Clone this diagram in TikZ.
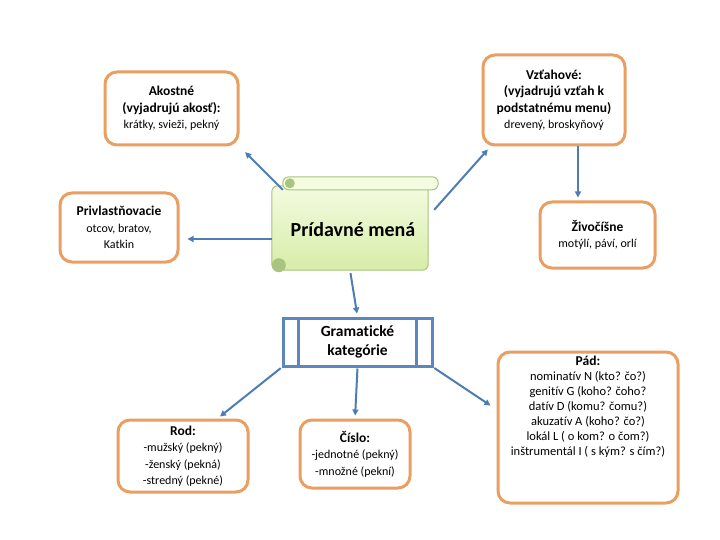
\documentclass[tikz,border=0pt]{standalone}
\usepackage{fontspec}
\setmainfont[Ligatures={NoCommon}]{Carlito}
\usetikzlibrary{positioning,arrows.meta,calc}
\definecolor{coranz}{HTML}{EA9F62}
\definecolor{cmodra}{HTML}{4F7DB3}
\definecolor{cramec}{HTML}{5B87BE}
\definecolor{czelena}{HTML}{A9C47E}
\definecolor{csvetla}{HTML}{F4FBE0}
\definecolor{cstred}{HTML}{D6EDA8}
\newcommand{\maly}[1]{{\fontsize{12}{16}\selectfont #1}}
\tikzset{
  ramik/.style={rectangle, rounded corners=12pt, draw=coranz, line width=3pt,
    fill=white, align=center, font=\fontsize{13.5}{16.5}\selectfont},
  sipka/.style={-{Triangle[length=6pt,width=6pt]}, line width=2pt, draw=cmodra},
  drobne/.style={font=\fontsize{12.5}{15}\selectfont},
}

\begin{document}
\begin{tikzpicture}[x=1pt,y=-1pt]
  \useasboundingbox[fill=white] (0,0) rectangle (720,540);
  % zvitok v strede
  \node[minimum width=156pt, minimum height=84pt, inner sep=0pt] (zvitok) at (350,228) {};
  \path[draw=czelena, line width=1pt, top color=csvetla, bottom color=cstred, rounded corners=6pt]
    (zvitok.north west) rectangle (zvitok.south east);
  \draw[czelena, line width=1pt, fill=csvetla, rounded corners=6pt]
    ($(zvitok.north west)+(11,-9)$) rectangle ($(zvitok.north east)+(10,4)$);
  \fill[czelena] ($(zvitok.north west)+(18,-2.5)$) circle (5);
  \fill[czelena] ($(zvitok.south west)+(7,-5)$) circle (7);
  \node[font=\fontsize{20}{23}\selectfont\bfseries] (pridavne) at (353,230) {Prídavné mená};
  % druhy
  \node[ramik, minimum width=133pt, minimum height=73pt] (akost) at (171.5,108.5)
    {\textbf{Akostné}\\\textbf{(vyjadrujú akosť):}\\\maly{krátky, svieži, pekný}};
  \node[ramik, minimum width=142pt, minimum height=90pt] (vztah) at (554,100)
    {\textbf{Vzťahové:}\\\textbf{(vyjadrujú vzťah k}\\\textbf{podstatnému menu)}\\\maly{drevený, broskyňový}};
  \node[ramik, minimum width=118pt, minimum height=69pt] (privl) at (119,227.5)
    {\textbf{Privlastňovacie}\\\maly{otcov, bratov,}\\\maly{Katkin}};
  \node[ramik, minimum width=115pt, minimum height=66pt] (zivo) at (597.5,235)
    {\textbf{Živočíšne}\\\maly{motýlí, páví, orlí}};
  % kategorie
  \node[draw=cramec, line width=3pt, minimum width=149pt, minimum height=48pt, align=center,
    font=\fontsize{15.5}{19}\selectfont\bfseries] (gram) at (357.5,342) {Gramatické\\kategórie};
  \draw[cramec, line width=3pt] ($(gram.north west)+(17,0)$) -- ($(gram.south west)+(17,0)$);
  \draw[cramec, line width=3pt] ($(gram.north east)+(-17,0)$) -- ($(gram.south east)+(-17,0)$);
  \node[ramik, minimum width=130pt, minimum height=72pt] (rod) at (183,456)
    {\textbf{Rod:}\\\maly{-mužský (pekný)}\\\maly{-ženský (pekná)}\\\maly{-stredný (pekné)}};
  \node[ramik, minimum width=110pt, minimum height=68pt] (cislo) at (355,454)
    {\textbf{Číslo:}\\\maly{-jednotné (pekný)}\\\maly{-množné (pekní)}};
  \node[ramik, minimum width=180pt, minimum height=151pt] (pad) at (588,427.5) {};
  \node[drobne, anchor=north, align=center] (padtext) at ($(pad.north)+(0,2)$)
    {\textbf{\fontsize{13.5}{15}\selectfont Pád:}\\nominatív N (kto? čo?)\\genitív G (koho? čoho?\\datív D (komu? čomu?)\\akuzatív A (koho? čo?)\\lokál L ( o kom? o čom?)\\inštrumentál I ( s kým? s čím?)};
  % sipky
  \draw[sipka, shorten >=8pt] ($(zvitok.north west)+(11,4)$) -- (akost.south east);
  \draw[sipka, shorten >=4pt] ($(zvitok.north east)+(6,24)$) -- ($(vztah.south west)+(9,0)$);
  \draw[sipka] ($(zvitok.west)+(0,11)$) -- ($(privl.east)+(8,11.5)$);
  \draw[sipka, shorten >=3pt] ($(vztah.south)+(24,0)$) -- ($(zivo.north)+(-19.5,0)$);
  \draw[sipka, shorten <=3pt, shorten >=3pt] (zvitok.south) -- (gram.north);
  \draw[sipka, shorten <=1pt] (gram.south west) -- ($(rod.north)+(37,-2)$);
  \draw[sipka, shorten <=1pt, shorten >=3pt] (gram.south) -- (cislo.north);
  \draw[sipka, shorten <=1pt] (gram.south east) -- ($(pad.west)+(-6,-22)$);
\end{tikzpicture}
\end{document}
